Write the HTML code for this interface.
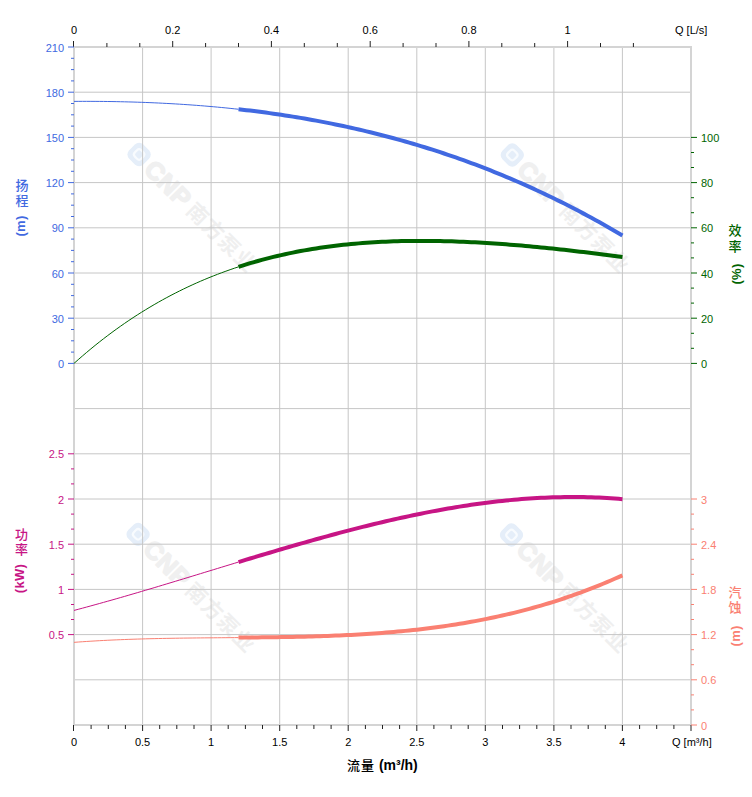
<!DOCTYPE html><html><head><meta charset="utf-8"><style>html,body{margin:0;padding:0;background:#fff;width:752px;height:797px;overflow:hidden}svg{display:block}</style></head><body>
<svg width="752" height="797" viewBox="0 0 752 797">
<rect width="752" height="797" fill="#fff"/>
<g transform="translate(139.1,154.5) rotate(45)"><rect x="-10" y="-10" width="20" height="20" rx="6" fill="#e5eef9"/><rect x="-4.5" y="-4.5" width="9" height="9" rx="3" fill="none" stroke="#f8fbfe" stroke-width="2.2"/><text x="14" y="9" font-family="'Liberation Sans', Arial, sans-serif" font-weight="bold" font-size="25" letter-spacing="0.5" fill="#f0f0f0" stroke="#f0f0f0" stroke-width="1.6" stroke-linejoin="round">CNP</text><text x="73" y="8" font-family="'Liberation Sans', 'Noto Sans CJK SC', sans-serif" font-weight="bold" font-size="21" letter-spacing="1.2" fill="#efefef">南方泵业</text></g>
<g transform="translate(512.3,155.0) rotate(45)"><rect x="-10" y="-10" width="20" height="20" rx="6" fill="#e5eef9"/><rect x="-4.5" y="-4.5" width="9" height="9" rx="3" fill="none" stroke="#f8fbfe" stroke-width="2.2"/><text x="14" y="9" font-family="'Liberation Sans', Arial, sans-serif" font-weight="bold" font-size="25" letter-spacing="0.5" fill="#f0f0f0" stroke="#f0f0f0" stroke-width="1.6" stroke-linejoin="round">CNP</text><text x="73" y="8" font-family="'Liberation Sans', 'Noto Sans CJK SC', sans-serif" font-weight="bold" font-size="21" letter-spacing="1.2" fill="#efefef">南方泵业</text></g>
<g transform="translate(138.1,534.3) rotate(45)"><rect x="-10" y="-10" width="20" height="20" rx="6" fill="#e5eef9"/><rect x="-4.5" y="-4.5" width="9" height="9" rx="3" fill="none" stroke="#f8fbfe" stroke-width="2.2"/><text x="14" y="9" font-family="'Liberation Sans', Arial, sans-serif" font-weight="bold" font-size="25" letter-spacing="0.5" fill="#f0f0f0" stroke="#f0f0f0" stroke-width="1.6" stroke-linejoin="round">CNP</text><text x="73" y="8" font-family="'Liberation Sans', 'Noto Sans CJK SC', sans-serif" font-weight="bold" font-size="21" letter-spacing="1.2" fill="#efefef">南方泵业</text></g>
<g transform="translate(511.5,535.0) rotate(45)"><rect x="-10" y="-10" width="20" height="20" rx="6" fill="#e5eef9"/><rect x="-4.5" y="-4.5" width="9" height="9" rx="3" fill="none" stroke="#f8fbfe" stroke-width="2.2"/><text x="14" y="9" font-family="'Liberation Sans', Arial, sans-serif" font-weight="bold" font-size="25" letter-spacing="0.5" fill="#f0f0f0" stroke="#f0f0f0" stroke-width="1.6" stroke-linejoin="round">CNP</text><text x="73" y="8" font-family="'Liberation Sans', 'Noto Sans CJK SC', sans-serif" font-weight="bold" font-size="21" letter-spacing="1.2" fill="#efefef">南方泵业</text></g>
<path d="M142.6 47.0V725.0 M211.1 47.0V725.0 M279.7 47.0V725.0 M348.2 47.0V725.0 M416.8 47.0V725.0 M485.3 47.0V725.0 M553.9 47.0V725.0 M622.4 47.0V725.0 M74.0 92.2H691.0 M74.0 137.4H691.0 M74.0 182.6H691.0 M74.0 227.8H691.0 M74.0 273.0H691.0 M74.0 318.2H691.0 M74.0 363.4H691.0 M74.0 408.6H691.0 M74.0 453.8H691.0 M74.0 499.0H691.0 M74.0 544.2H691.0 M74.0 589.4H691.0 M74.0 634.6H691.0 M74.0 679.8H691.0" stroke="#c6c6c6" stroke-width="1" fill="none"/>
<rect x="74.0" y="47.0" width="617.0" height="678.0" fill="none" stroke="#d4d4d4" stroke-width="2"/>
<path d="M73.5 725.0V731.0 M91.1 725.0V729.0 M108.3 725.0V729.0 M125.4 725.0V729.0 M142.6 725.0V731.0 M159.7 725.0V729.0 M176.8 725.0V729.0 M194.0 725.0V729.0 M211.1 725.0V731.0 M228.2 725.0V729.0 M245.4 725.0V729.0 M262.5 725.0V729.0 M279.7 725.0V731.0 M296.8 725.0V729.0 M313.9 725.0V729.0 M331.1 725.0V729.0 M348.2 725.0V731.0 M365.4 725.0V729.0 M382.5 725.0V729.0 M399.6 725.0V729.0 M416.8 725.0V731.0 M433.9 725.0V729.0 M451.1 725.0V729.0 M468.2 725.0V729.0 M485.3 725.0V731.0 M502.5 725.0V729.0 M519.6 725.0V729.0 M536.8 725.0V729.0 M553.9 725.0V731.0 M571.0 725.0V729.0 M588.2 725.0V729.0 M605.3 725.0V729.0 M622.4 725.0V731.0 M639.6 725.0V729.0 M656.7 725.0V729.0 M673.9 725.0V729.0 M691.0 725.0V731.0" stroke="#222" stroke-width="1" fill="none"/>
<text x="74.0" y="746" text-anchor="middle" font-family="'Liberation Sans', Arial, sans-serif" font-size="11" fill="#000">0</text>
<text x="142.6" y="746" text-anchor="middle" font-family="'Liberation Sans', Arial, sans-serif" font-size="11" fill="#000">0.5</text>
<text x="211.1" y="746" text-anchor="middle" font-family="'Liberation Sans', Arial, sans-serif" font-size="11" fill="#000">1</text>
<text x="279.7" y="746" text-anchor="middle" font-family="'Liberation Sans', Arial, sans-serif" font-size="11" fill="#000">1.5</text>
<text x="348.2" y="746" text-anchor="middle" font-family="'Liberation Sans', Arial, sans-serif" font-size="11" fill="#000">2</text>
<text x="416.8" y="746" text-anchor="middle" font-family="'Liberation Sans', Arial, sans-serif" font-size="11" fill="#000">2.5</text>
<text x="485.3" y="746" text-anchor="middle" font-family="'Liberation Sans', Arial, sans-serif" font-size="11" fill="#000">3</text>
<text x="553.9" y="746" text-anchor="middle" font-family="'Liberation Sans', Arial, sans-serif" font-size="11" fill="#000">3.5</text>
<text x="622.4" y="746" text-anchor="middle" font-family="'Liberation Sans', Arial, sans-serif" font-size="11" fill="#000">4</text>
<text x="672" y="746" font-family="'Liberation Sans', Arial, sans-serif" font-size="11" fill="#000">Q [m³/h]</text>
<text x="347" y="770" font-family="'Liberation Sans', 'Noto Sans CJK SC', sans-serif" font-weight="bold" font-size="14" fill="#000"><tspan font-weight="500" font-size="13" letter-spacing="1">流量</tspan> (m³/h)</text>
<path d="M73.5 41.0V47.0 M106.9 43.0V47.0 M139.8 43.0V47.0 M172.7 41.0V47.0 M205.6 43.0V47.0 M238.5 43.0V47.0 M271.4 41.0V47.0 M304.3 43.0V47.0 M337.3 43.0V47.0 M370.2 41.0V47.0 M403.1 43.0V47.0 M436.0 43.0V47.0 M468.9 41.0V47.0 M501.8 43.0V47.0 M534.7 43.0V47.0 M567.6 41.0V47.0 M600.5 43.0V47.0 M633.4 43.0V47.0" stroke="#222" stroke-width="1" fill="none"/>
<text x="74.0" y="34" text-anchor="middle" font-family="'Liberation Sans', Arial, sans-serif" font-size="11" fill="#000">0</text>
<text x="172.7" y="34" text-anchor="middle" font-family="'Liberation Sans', Arial, sans-serif" font-size="11" fill="#000">0.2</text>
<text x="271.4" y="34" text-anchor="middle" font-family="'Liberation Sans', Arial, sans-serif" font-size="11" fill="#000">0.4</text>
<text x="370.2" y="34" text-anchor="middle" font-family="'Liberation Sans', Arial, sans-serif" font-size="11" fill="#000">0.6</text>
<text x="468.9" y="34" text-anchor="middle" font-family="'Liberation Sans', Arial, sans-serif" font-size="11" fill="#000">0.8</text>
<text x="567.6" y="34" text-anchor="middle" font-family="'Liberation Sans', Arial, sans-serif" font-size="11" fill="#000">1</text>
<text x="675" y="34" font-family="'Liberation Sans', Arial, sans-serif" font-size="11" fill="#000">Q [L/s]</text>
<path d="M68.0 363.4H74.0 M71.0 352.1H74.0 M71.0 340.8H74.0 M71.0 329.5H74.0 M68.0 318.2H74.0 M71.0 306.9H74.0 M71.0 295.6H74.0 M71.0 284.3H74.0 M68.0 273.0H74.0 M71.0 261.7H74.0 M71.0 250.4H74.0 M71.0 239.1H74.0 M68.0 227.8H74.0 M71.0 216.5H74.0 M71.0 205.2H74.0 M71.0 193.9H74.0 M68.0 182.6H74.0 M71.0 171.3H74.0 M71.0 160.0H74.0 M71.0 148.7H74.0 M68.0 137.4H74.0 M71.0 126.1H74.0 M71.0 114.8H74.0 M71.0 103.5H74.0 M68.0 92.2H74.0 M71.0 80.9H74.0 M71.0 69.6H74.0 M71.0 58.3H74.0 M68.0 47.0H74.0" stroke="#4169e1" stroke-width="1" fill="none"/>
<text x="64" y="367.9" text-anchor="end" font-family="'Liberation Sans', Arial, sans-serif" font-size="11" fill="#4169e1">0</text>
<text x="64" y="322.7" text-anchor="end" font-family="'Liberation Sans', Arial, sans-serif" font-size="11" fill="#4169e1">30</text>
<text x="64" y="277.5" text-anchor="end" font-family="'Liberation Sans', Arial, sans-serif" font-size="11" fill="#4169e1">60</text>
<text x="64" y="232.3" text-anchor="end" font-family="'Liberation Sans', Arial, sans-serif" font-size="11" fill="#4169e1">90</text>
<text x="64" y="187.1" text-anchor="end" font-family="'Liberation Sans', Arial, sans-serif" font-size="11" fill="#4169e1">120</text>
<text x="64" y="141.9" text-anchor="end" font-family="'Liberation Sans', Arial, sans-serif" font-size="11" fill="#4169e1">150</text>
<text x="64" y="96.7" text-anchor="end" font-family="'Liberation Sans', Arial, sans-serif" font-size="11" fill="#4169e1">180</text>
<text x="64" y="51.5" text-anchor="end" font-family="'Liberation Sans', Arial, sans-serif" font-size="11" fill="#4169e1">210</text>
<path d="M68.0 634.6H74.0 M71.0 619.5H74.0 M71.0 604.5H74.0 M68.0 589.4H74.0 M71.0 574.3H74.0 M71.0 559.3H74.0 M68.0 544.2H74.0 M71.0 529.1H74.0 M71.0 514.1H74.0 M68.0 499.0H74.0 M71.0 483.9H74.0 M71.0 468.9H74.0 M68.0 453.8H74.0" stroke="#c71585" stroke-width="1" fill="none"/>
<text x="64" y="639.1" text-anchor="end" font-family="'Liberation Sans', Arial, sans-serif" font-size="11" fill="#c71585">0.5</text>
<text x="64" y="593.9" text-anchor="end" font-family="'Liberation Sans', Arial, sans-serif" font-size="11" fill="#c71585">1</text>
<text x="64" y="548.7" text-anchor="end" font-family="'Liberation Sans', Arial, sans-serif" font-size="11" fill="#c71585">1.5</text>
<text x="64" y="503.5" text-anchor="end" font-family="'Liberation Sans', Arial, sans-serif" font-size="11" fill="#c71585">2</text>
<text x="64" y="458.3" text-anchor="end" font-family="'Liberation Sans', Arial, sans-serif" font-size="11" fill="#c71585">2.5</text>
<path d="M691.0 363.4H697.0 M691.0 348.3H694.0 M691.0 333.3H694.0 M691.0 318.2H697.0 M691.0 303.1H694.0 M691.0 288.1H694.0 M691.0 273.0H697.0 M691.0 257.9H694.0 M691.0 242.9H694.0 M691.0 227.8H697.0 M691.0 212.7H694.0 M691.0 197.7H694.0 M691.0 182.6H697.0 M691.0 167.5H694.0 M691.0 152.5H694.0 M691.0 137.4H697.0" stroke="#006400" stroke-width="1" fill="none"/>
<text x="701" y="367.9" font-family="'Liberation Sans', Arial, sans-serif" font-size="11" fill="#006400">0</text>
<text x="701" y="322.7" font-family="'Liberation Sans', Arial, sans-serif" font-size="11" fill="#006400">20</text>
<text x="701" y="277.5" font-family="'Liberation Sans', Arial, sans-serif" font-size="11" fill="#006400">40</text>
<text x="701" y="232.3" font-family="'Liberation Sans', Arial, sans-serif" font-size="11" fill="#006400">60</text>
<text x="701" y="187.1" font-family="'Liberation Sans', Arial, sans-serif" font-size="11" fill="#006400">80</text>
<text x="701" y="141.9" font-family="'Liberation Sans', Arial, sans-serif" font-size="11" fill="#006400">100</text>
<path d="M691.0 725.0H697.0 M691.0 709.9H694.0 M691.0 694.9H694.0 M691.0 679.8H697.0 M691.0 664.7H694.0 M691.0 649.7H694.0 M691.0 634.6H697.0 M691.0 619.5H694.0 M691.0 604.5H694.0 M691.0 589.4H697.0 M691.0 574.3H694.0 M691.0 559.3H694.0 M691.0 544.2H697.0 M691.0 529.1H694.0 M691.0 514.1H694.0 M691.0 499.0H697.0" stroke="#fa8072" stroke-width="1" fill="none"/>
<text x="701" y="729.5" font-family="'Liberation Sans', Arial, sans-serif" font-size="11" fill="#fa8072">0</text>
<text x="701" y="684.3" font-family="'Liberation Sans', Arial, sans-serif" font-size="11" fill="#fa8072">0.6</text>
<text x="701" y="639.1" font-family="'Liberation Sans', Arial, sans-serif" font-size="11" fill="#fa8072">1.2</text>
<text x="701" y="593.9" font-family="'Liberation Sans', Arial, sans-serif" font-size="11" fill="#fa8072">1.8</text>
<text x="701" y="548.7" font-family="'Liberation Sans', Arial, sans-serif" font-size="11" fill="#fa8072">2.4</text>
<text x="701" y="503.5" font-family="'Liberation Sans', Arial, sans-serif" font-size="11" fill="#fa8072">3</text>
<text x="22.0" y="190.1" text-anchor="middle" font-family="'Liberation Sans', 'Noto Sans CJK SC', sans-serif" font-weight="500" font-size="13" fill="#4169e1">扬</text><text x="22.0" y="205.1" text-anchor="middle" font-family="'Liberation Sans', 'Noto Sans CJK SC', sans-serif" font-weight="500" font-size="13" fill="#4169e1">程</text><text transform="translate(25.0,226.0) rotate(-90)" text-anchor="middle" font-family="'Liberation Sans', Arial, sans-serif" font-weight="bold" font-size="13" letter-spacing="0.3" fill="#4169e1">(m)</text>
<text x="21.5" y="539.2" text-anchor="middle" font-family="'Liberation Sans', 'Noto Sans CJK SC', sans-serif" font-weight="500" font-size="13" fill="#c71585">功</text><text x="21.5" y="554.4" text-anchor="middle" font-family="'Liberation Sans', 'Noto Sans CJK SC', sans-serif" font-weight="500" font-size="13" fill="#c71585">率</text><text transform="translate(24.0,578.5) rotate(-90)" text-anchor="middle" font-family="'Liberation Sans', Arial, sans-serif" font-weight="bold" font-size="13" letter-spacing="0.3" fill="#c71585">(kW)</text>
<text x="735.0" y="235.3" text-anchor="middle" font-family="'Liberation Sans', 'Noto Sans CJK SC', sans-serif" font-weight="500" font-size="13" fill="#006400">效</text><text x="735.0" y="250.5" text-anchor="middle" font-family="'Liberation Sans', 'Noto Sans CJK SC', sans-serif" font-weight="500" font-size="13" fill="#006400">率</text><text transform="translate(740.5,274.0) rotate(-90)" text-anchor="middle" font-family="'Liberation Sans', Arial, sans-serif" font-weight="bold" font-size="13" letter-spacing="0.3" fill="#006400">(%)</text>
<text x="735.0" y="596.9" text-anchor="middle" font-family="'Liberation Sans', 'Noto Sans CJK SC', sans-serif" font-weight="500" font-size="13" fill="#fa8072">汽</text><text x="735.0" y="611.8" text-anchor="middle" font-family="'Liberation Sans', 'Noto Sans CJK SC', sans-serif" font-weight="500" font-size="13" fill="#fa8072">蚀</text><text transform="translate(740.3,635.9) rotate(-90)" text-anchor="middle" font-family="'Liberation Sans', Arial, sans-serif" font-weight="bold" font-size="13" letter-spacing="0.3" fill="#fa8072">(m)</text>
<path d="M74.00,101.38 L78.22,101.36 L82.44,101.35 L86.66,101.35 L90.88,101.36 L95.09,101.38 L99.31,101.41 L103.53,101.45 L107.75,101.50 L111.97,101.56 L116.19,101.64 L120.41,101.72 L124.63,101.82 L128.84,101.93 L133.06,102.04 L137.28,102.18 L141.50,102.32 L145.72,102.47 L149.94,102.64 L154.16,102.82 L158.38,103.01 L162.59,103.22 L166.81,103.44 L171.03,103.67 L175.25,103.91 L179.47,104.17 L183.69,104.44 L187.91,104.72 L192.13,105.02 L196.35,105.33 L200.56,105.66 L204.78,106.00 L209.00,106.36 L213.22,106.72 L217.44,107.11 L221.66,107.51 L225.88,107.92 L230.10,108.35 L234.31,108.80 L238.53,109.26" stroke="#4169e1" stroke-width="1" fill="none"/>
<path d="M238.53,109.26 L242.41,109.69 L246.29,110.14 L250.17,110.61 L254.04,111.08 L257.92,111.57 L261.80,112.08 L265.68,112.60 L269.56,113.13 L273.43,113.67 L277.31,114.23 L281.19,114.81 L285.07,115.40 L288.95,116.00 L292.82,116.62 L296.70,117.26 L300.58,117.90 L304.46,118.57 L308.34,119.25 L312.21,119.94 L316.09,120.65 L319.97,121.38 L323.85,122.12 L327.72,122.87 L331.60,123.65 L335.48,124.43 L339.36,125.24 L343.24,126.06 L347.11,126.90 L350.99,127.75 L354.87,128.62 L358.75,129.51 L362.63,130.41 L366.50,131.33 L370.38,132.27 L374.26,133.23 L378.14,134.20 L382.02,135.19 L385.89,136.20 L389.77,137.22 L393.65,138.27 L397.53,139.33 L401.40,140.41 L405.28,141.50 L409.16,142.62 L413.04,143.75 L416.92,144.91 L420.79,146.08 L424.67,147.27 L428.55,148.47 L432.43,149.70 L436.31,150.95 L440.18,152.21 L444.06,153.50 L447.94,154.80 L451.82,156.13 L455.70,157.47 L459.57,158.84 L463.45,160.22 L467.33,161.62 L471.21,163.05 L475.08,164.49 L478.96,165.96 L482.84,167.44 L486.72,168.95 L490.60,170.47 L494.47,172.02 L498.35,173.59 L502.23,175.18 L506.11,176.79 L509.99,178.42 L513.86,180.07 L517.74,181.75 L521.62,183.44 L525.50,185.16 L529.38,186.90 L533.25,188.67 L537.13,190.45 L541.01,192.26 L544.89,194.09 L548.76,195.94 L552.64,197.81 L556.52,199.71 L560.40,201.63 L564.28,203.57 L568.15,205.54 L572.03,207.53 L575.91,209.54 L579.79,211.58 L583.67,213.64 L587.54,215.72 L591.42,217.83 L595.30,219.96 L599.18,222.11 L603.05,224.29 L606.93,226.50 L610.81,228.72 L614.69,230.98 L618.57,233.25 L622.44,235.56" stroke="#4169e1" stroke-width="4" fill="none" stroke-linejoin="round"/>
<path d="M74.00,363.40 L78.22,359.65 L82.44,355.98 L86.66,352.38 L90.88,348.86 L95.09,345.42 L99.31,342.05 L103.53,338.76 L107.75,335.53 L111.97,332.38 L116.19,329.30 L120.41,326.30 L124.63,323.35 L128.84,320.48 L133.06,317.68 L137.28,314.94 L141.50,312.27 L145.72,309.66 L149.94,307.11 L154.16,304.63 L158.38,302.21 L162.59,299.85 L166.81,297.55 L171.03,295.31 L175.25,293.13 L179.47,291.00 L183.69,288.93 L187.91,286.92 L192.13,284.96 L196.35,283.06 L200.56,281.21 L204.78,279.41 L209.00,277.67 L213.22,275.97 L217.44,274.33 L221.66,272.74 L225.88,271.19 L230.10,269.69 L234.31,268.24 L238.53,266.84" stroke="#006400" stroke-width="1" fill="none"/>
<path d="M238.53,266.84 L242.41,265.59 L246.29,264.38 L250.17,263.20 L254.04,262.06 L257.92,260.96 L261.80,259.89 L265.68,258.86 L269.56,257.87 L273.43,256.91 L277.31,255.98 L281.19,255.08 L285.07,254.22 L288.95,253.39 L292.82,252.59 L296.70,251.82 L300.58,251.09 L304.46,250.38 L308.34,249.70 L312.21,249.05 L316.09,248.43 L319.97,247.84 L323.85,247.28 L327.72,246.74 L331.60,246.23 L335.48,245.75 L339.36,245.29 L343.24,244.86 L347.11,244.45 L350.99,244.07 L354.87,243.71 L358.75,243.37 L362.63,243.06 L366.50,242.77 L370.38,242.50 L374.26,242.25 L378.14,242.03 L382.02,241.83 L385.89,241.65 L389.77,241.48 L393.65,241.34 L397.53,241.22 L401.40,241.12 L405.28,241.03 L409.16,240.97 L413.04,240.92 L416.92,240.89 L420.79,240.88 L424.67,240.88 L428.55,240.90 L432.43,240.94 L436.31,240.99 L440.18,241.06 L444.06,241.15 L447.94,241.25 L451.82,241.36 L455.70,241.49 L459.57,241.63 L463.45,241.79 L467.33,241.96 L471.21,242.14 L475.08,242.34 L478.96,242.55 L482.84,242.77 L486.72,243.00 L490.60,243.25 L494.47,243.51 L498.35,243.77 L502.23,244.05 L506.11,244.34 L509.99,244.65 L513.86,244.96 L517.74,245.28 L521.62,245.61 L525.50,245.95 L529.38,246.30 L533.25,246.66 L537.13,247.03 L541.01,247.41 L544.89,247.80 L548.76,248.19 L552.64,248.60 L556.52,249.01 L560.40,249.43 L564.28,249.85 L568.15,250.29 L572.03,250.73 L575.91,251.18 L579.79,251.64 L583.67,252.10 L587.54,252.57 L591.42,253.05 L595.30,253.53 L599.18,254.02 L603.05,254.52 L606.93,255.02 L610.81,255.53 L614.69,256.05 L618.57,256.57 L622.44,257.10" stroke="#006400" stroke-width="4" fill="none" stroke-linejoin="round"/>
<path d="M74.00,610.42 L78.22,609.31 L82.44,608.18 L86.66,607.04 L90.88,605.89 L95.09,604.73 L99.31,603.56 L103.53,602.39 L107.75,601.20 L111.97,600.01 L116.19,598.80 L120.41,597.60 L124.63,596.38 L128.84,595.16 L133.06,593.92 L137.28,592.69 L141.50,591.45 L145.72,590.20 L149.94,588.95 L154.16,587.69 L158.38,586.43 L162.59,585.16 L166.81,583.89 L171.03,582.62 L175.25,581.34 L179.47,580.06 L183.69,578.78 L187.91,577.49 L192.13,576.21 L196.35,574.92 L200.56,573.63 L204.78,572.34 L209.00,571.06 L213.22,569.77 L217.44,568.48 L221.66,567.19 L225.88,565.90 L230.10,564.62 L234.31,563.34 L238.53,562.05" stroke="#c71585" stroke-width="1" fill="none"/>
<path d="M238.53,562.05 L242.41,560.88 L246.29,559.70 L250.17,558.53 L254.04,557.37 L257.92,556.20 L261.80,555.04 L265.68,553.88 L269.56,552.73 L273.43,551.58 L277.31,550.43 L281.19,549.29 L285.07,548.16 L288.95,547.03 L292.82,545.90 L296.70,544.79 L300.58,543.67 L304.46,542.57 L308.34,541.47 L312.21,540.37 L316.09,539.29 L319.97,538.21 L323.85,537.14 L327.72,536.08 L331.60,535.03 L335.48,533.98 L339.36,532.94 L343.24,531.92 L347.11,530.90 L350.99,529.89 L354.87,528.89 L358.75,527.90 L362.63,526.92 L366.50,525.96 L370.38,525.00 L374.26,524.05 L378.14,523.12 L382.02,522.20 L385.89,521.29 L389.77,520.39 L393.65,519.50 L397.53,518.63 L401.40,517.77 L405.28,516.93 L409.16,516.09 L413.04,515.28 L416.92,514.47 L420.79,513.68 L424.67,512.91 L428.55,512.15 L432.43,511.40 L436.31,510.67 L440.18,509.96 L444.06,509.26 L447.94,508.58 L451.82,507.92 L455.70,507.27 L459.57,506.64 L463.45,506.02 L467.33,505.43 L471.21,504.85 L475.08,504.29 L478.96,503.75 L482.84,503.23 L486.72,502.73 L490.60,502.24 L494.47,501.78 L498.35,501.33 L502.23,500.91 L506.11,500.50 L509.99,500.12 L513.86,499.76 L517.74,499.42 L521.62,499.10 L525.50,498.80 L529.38,498.52 L533.25,498.27 L537.13,498.04 L541.01,497.83 L544.89,497.64 L548.76,497.48 L552.64,497.34 L556.52,497.23 L560.40,497.13 L564.28,497.07 L568.15,497.03 L572.03,497.01 L575.91,497.02 L579.79,497.05 L583.67,497.11 L587.54,497.20 L591.42,497.31 L595.30,497.45 L599.18,497.61 L603.05,497.80 L606.93,498.02 L610.81,498.27 L614.69,498.55 L618.57,498.85 L622.44,499.18" stroke="#c71585" stroke-width="4" fill="none" stroke-linejoin="round"/>
<path d="M74.00,642.35 L78.22,642.04 L82.44,641.74 L86.66,641.46 L90.88,641.19 L95.09,640.94 L99.31,640.70 L103.53,640.48 L107.75,640.26 L111.97,640.06 L116.19,639.87 L120.41,639.69 L124.63,639.53 L128.84,639.37 L133.06,639.23 L137.28,639.09 L141.50,638.96 L145.72,638.84 L149.94,638.73 L154.16,638.63 L158.38,638.54 L162.59,638.45 L166.81,638.37 L171.03,638.30 L175.25,638.23 L179.47,638.16 L183.69,638.10 L187.91,638.05 L192.13,638.00 L196.35,637.95 L200.56,637.91 L204.78,637.87 L209.00,637.83 L213.22,637.80 L217.44,637.76 L221.66,637.73 L225.88,637.69 L230.10,637.66 L234.31,637.63 L238.53,637.59" stroke="#fa8072" stroke-width="1" fill="none"/>
<path d="M238.53,637.59 L242.41,637.56 L246.29,637.53 L250.17,637.49 L254.04,637.45 L257.92,637.41 L261.80,637.37 L265.68,637.33 L269.56,637.28 L273.43,637.23 L277.31,637.17 L281.19,637.11 L285.07,637.04 L288.95,636.97 L292.82,636.90 L296.70,636.82 L300.58,636.73 L304.46,636.64 L308.34,636.54 L312.21,636.43 L316.09,636.31 L319.97,636.19 L323.85,636.06 L327.72,635.92 L331.60,635.77 L335.48,635.62 L339.36,635.45 L343.24,635.27 L347.11,635.09 L350.99,634.89 L354.87,634.69 L358.75,634.47 L362.63,634.24 L366.50,634.00 L370.38,633.74 L374.26,633.48 L378.14,633.20 L382.02,632.91 L385.89,632.60 L389.77,632.29 L393.65,631.95 L397.53,631.61 L401.40,631.24 L405.28,630.87 L409.16,630.48 L413.04,630.07 L416.92,629.64 L420.79,629.20 L424.67,628.75 L428.55,628.27 L432.43,627.78 L436.31,627.27 L440.18,626.74 L444.06,626.20 L447.94,625.63 L451.82,625.05 L455.70,624.44 L459.57,623.82 L463.45,623.18 L467.33,622.51 L471.21,621.83 L475.08,621.12 L478.96,620.39 L482.84,619.64 L486.72,618.87 L490.60,618.08 L494.47,617.26 L498.35,616.42 L502.23,615.56 L506.11,614.67 L509.99,613.76 L513.86,612.82 L517.74,611.86 L521.62,610.88 L525.50,609.87 L529.38,608.83 L533.25,607.77 L537.13,606.68 L541.01,605.56 L544.89,604.41 L548.76,603.24 L552.64,602.04 L556.52,600.82 L560.40,599.56 L564.28,598.27 L568.15,596.96 L572.03,595.62 L575.91,594.24 L579.79,592.84 L583.67,591.40 L587.54,589.94 L591.42,588.44 L595.30,586.91 L599.18,585.35 L603.05,583.76 L606.93,582.14 L610.81,580.48 L614.69,578.79 L618.57,577.06 L622.44,575.31" stroke="#fa8072" stroke-width="4" fill="none" stroke-linejoin="round"/>
</svg></body></html>
